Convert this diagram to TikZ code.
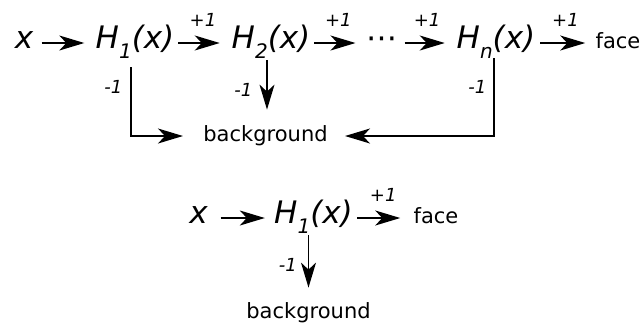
\documentclass[tikz,border=0pt]{standalone}
\usepackage{fontspec}
\setmainfont{DejaVu Sans}
\usetikzlibrary{arrows.meta, positioning}

\newcommand{\hfun}[1]{H\raisebox{-0.33em}{\fontsize{10}{10}\selectfont #1}(x)}

\begin{document}
\begin{tikzpicture}[
  x=0.5pt, y=-0.5pt,
  var/.style={inner sep=0pt, text height=0.76em, text depth=0.24em,
              font=\fontsize{15.5}{18}\selectfont\itshape},
  salida/.style={inner sep=0pt, text height=0.76em, text depth=0.24em,
                 font=\fontsize{10.5}{12}\selectfont},
  peso/.style={inner sep=0pt, font=\fontsize{9}{10}\selectfont\itshape},
  fl/.style={-{Stealth[length=12.5pt, width=7.5pt, inset=3.5pt]}, line width=0.7pt}
]
\useasboundingbox (0,0) rectangle (642,323);

% ---- Cascada completa ----
\node[var] (x) at (24,43) {x};
\node[var] (h1) at (135,43) {\hfun{1}};
\node[var] (h2) at (271,43) {\hfun{2}};
\node[var] (pts) at (382,43) {\upshape ⋯};
\node[var] (hn) at (496,43) {\hfun{n}};
\node[salida] (face) at (618,43) {face};
\node[salida] (bg) at (265.5,136) {background};

\draw[fl, shorten <=4pt, shorten >=5.5pt] (x) -- (h1);
\draw[fl, shorten <=1.8pt, shorten >=5.8pt] (h1) -- node[peso, above=8pt] {+1} (h2);
\draw[fl, shorten <=1.8pt, shorten >=5.3pt] (h2) -- node[peso, above=8pt] {+1} (pts);
\draw[fl, shorten <=3.4pt, shorten >=5.8pt] (pts) -- node[peso, above=8pt] {+1} (hn);
\draw[fl, shorten <=2.2pt, shorten >=5pt] (hn) -- node[peso, above=8pt] {+1} (face);

\draw[fl, shorten <=7pt, shorten >=10pt] ([xshift=-2pt]h1.south) |- node[peso, left=4pt, pos=0.205] {-1} (bg.west);
\draw[fl, shorten <=3.5pt, shorten >=8pt] ([xshift=-2pt]h2.south) -- node[peso, left=7pt, pos=0.5] {-1} ([xshift=0.75pt]bg.north);
\draw[fl, shorten <=2.5pt, shorten >=8.5pt] ([xshift=-1pt]hn.south) |- node[peso, left=3.5pt, pos=0.205] {-1} (bg.east);

% ---- Cascada de una etapa ----
\node[var] (xb) at (198.5,218) {x};
\node[var] (h1b) at (313.5,218) {\hfun{1}};
\node[salida] (faceb) at (436,218) {face};
\node[salida] (bgb) at (308.5,313) {background};

\draw[fl, shorten <=6.3pt, shorten >=4.5pt] (xb) -- (h1b);
\draw[fl, shorten <=2pt, shorten >=6.5pt] (h1b) -- node[peso, above=8pt] {+1} (faceb);
\draw[fl, shorten <=3.5pt, shorten >=7.5pt] ([xshift=-2.5pt]h1b.south) -- node[peso, left=5.5pt, pos=0.49] {-1} (bgb.north);
\end{tikzpicture}
\end{document}
